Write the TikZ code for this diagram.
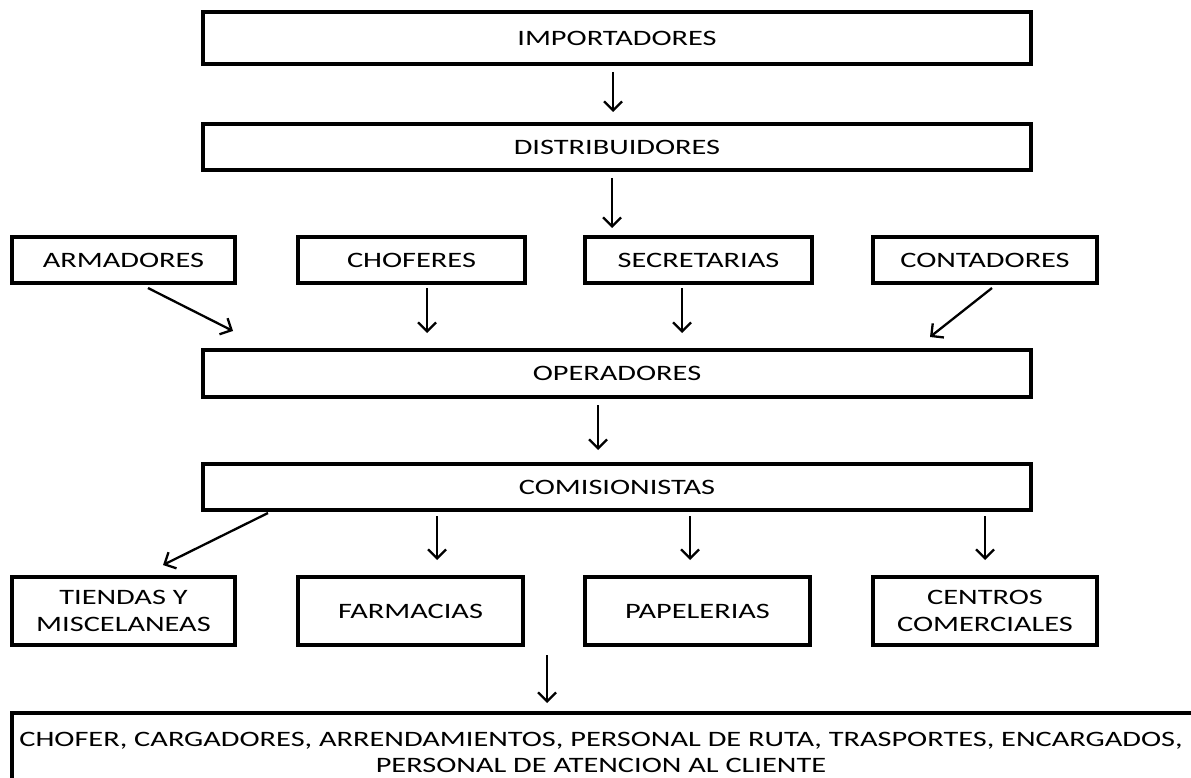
\documentclass[tikz,border=0pt]{standalone}
\usepackage{fontspec}
\setmainfont{Carlito}[FakeStretch=1.38]
\usetikzlibrary{arrows.meta}
\tikzset{
  box/.style={draw=black, line width=3.5pt, inner sep=0pt, align=center,
    font=\fontsize{22}{27}\selectfont},
  arr/.style={line width=2.3pt, -{Straight Barb[length=9pt, width=18pt, line width=2.3pt]}}
}
\begin{document}
\begin{tikzpicture}[x=1pt, y=-1pt]
\useasboundingbox (0,0) rectangle (1191,778);
\begin{scope}
\clip (0,0) rectangle (1191,778);
% main chain
\node[box, minimum width=828pt, minimum height=52pt] (imp) at (617,38) {IMPORTADORES};
\node[box, minimum width=828pt, minimum height=46pt] (dis) at (617,147) {DISTRIBUIDORES};
\node[box, minimum width=828pt, minimum height=47pt] (ope) at (617,373.5) {OPERADORES};
\node[box, minimum width=828pt, minimum height=46pt] (com) at (617,487) {COMISIONISTAS};
% upper row
\node[box, minimum width=223pt, minimum height=46pt] (arm) at (123.5,260) {ARMADORES};
\node[box, minimum width=227pt, minimum height=46pt] (cho) at (411.5,260) {CHOFERES};
\node[box, minimum width=227pt, minimum height=46pt] (sec) at (698.5,260) {SECRETARIAS};
\node[box, minimum width=224pt, minimum height=46pt] (con) at (985,260) {CONTADORES};
% lower row
\node[box, minimum width=223pt, minimum height=68pt] (tie) at (123.5,611) {TIENDAS Y\\MISCELANEAS};
\node[box, minimum width=225pt, minimum height=68pt] (far) at (410.5,611) {FARMACIAS};
\node[box, minimum width=225pt, minimum height=68pt] (pap) at (697.5,611) {PAPELERIAS};
\node[box, minimum width=224pt, minimum height=68pt] (cen) at (985,611) {CENTROS\\COMERCIALES};
% bottom box (runs off the page)
\draw[line width=3.5pt] (1200,713) -- (12,713) -- (12,800);
\node[font=\fontsize{22}{26}\selectfont, align=center, anchor=north, inner sep=0pt] (per) at (601,732)
  {CHOFER, CARGADORES, ARRENDAMIENTOS, PERSONAL DE RUTA, TRASPORTES, ENCARGADOS,\\PERSONAL DE ATENCION AL CLIENTE};
% arrow end points
\coordinate (a1s) at (613,72);   \coordinate (a1e) at (613,112);
\coordinate (a2s) at (612,178);  \coordinate (a2e) at (612,228);
\coordinate (ars) at (148,288);  \coordinate (are) at (233,331);
\coordinate (chs) at (427,288);  \coordinate (che) at (427,333);
\coordinate (ses) at (682,288);  \coordinate (see) at (682,333);
\coordinate (cos) at (992,288);  \coordinate (coe) at (930,337);
\coordinate (a3s) at (598,405);  \coordinate (a3e) at (598,450);
\coordinate (tis) at (268,513);  \coordinate (tie2) at (163,565);
\coordinate (fas) at (437,516);  \coordinate (fae) at (437,560);
\coordinate (pas) at (690,516);  \coordinate (pae) at (690,560);
\coordinate (ces) at (985,516);  \coordinate (cee) at (985,560);
\coordinate (bis) at (547,655);  \coordinate (bie) at (547,703);
\draw[arr] (a1s) -- (a1e);
\draw[arr] (a2s) -- (a2e);
\draw[arr] (ars) -- (are);
\draw[arr] (chs) -- (che);
\draw[arr] (ses) -- (see);
\draw[arr] (cos) -- (coe);
\draw[arr] (a3s) -- (a3e);
\draw[arr] (tis) -- (tie2);
\draw[arr] (fas) -- (fae);
\draw[arr] (pas) -- (pae);
\draw[arr] (ces) -- (cee);
\draw[arr] (bis) -- (bie);
\end{scope}
\end{tikzpicture}
\end{document}
